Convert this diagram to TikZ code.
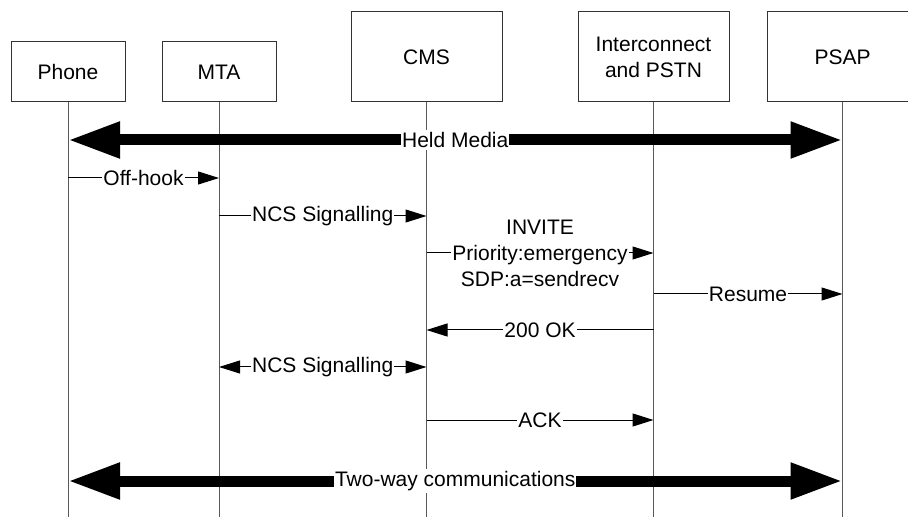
\documentclass[tikz,border=0pt]{standalone}
\usepackage{fontspec}
\setmainfont{Liberation Sans}
\usetikzlibrary{arrows.meta}
\usetikzlibrary{positioning}

\begin{document}
\begin{tikzpicture} [ x=0.5pt, y=-0.5pt
								, font=\fontsize{10.5}{13}\selectfont
								, kasten/.style={rectangle, draw=black!80, line width=.5pt, minimum width=57pt, minimum height=30pt, inner sep=1pt, align=center}
								, grosskasten/.style={kasten, minimum width=75.5pt, minimum height=45pt}
								, lebenslinie/.style={draw=black!65, line width=.5pt}
								, pfeilspitze/.style={draw, line width=.5pt, arrows={-Triangle[length=10.5pt, width=6.5pt]}}
								, doppelspitze/.style={pfeilspitze, arrows={Triangle[length=10.5pt, width=6.5pt]-Triangle[length=10.5pt, width=6.5pt]}}
								, dickpfeil/.style={draw, line width=5.5pt, arrows={Triangle[length=26pt, width=17pt]-Triangle[length=26pt, width=17pt]}}
								, beschriftung/.style={fill=white, inner xsep=.5pt, inner ysep=1pt}
								]
	\useasboundingbox (0,0) rectangle (908,517);

	\node (Phone) 	[kasten] at (68,72) {Phone};
	\node (MTA) 	[kasten, right=18pt of Phone] {MTA};
	\node (CMS) 	[grosskasten, right=37pt of MTA.south east, anchor=south west] {CMS};
	\node (PSTN) 	[grosskasten, right=37.5pt of CMS.south east, anchor=south west] {Interconnect\\and PSTN};
	\node (PSAP) 	[grosskasten, right=18.5pt of PSTN.south east, anchor=south west] {PSAP};

	\foreach \k in {Phone,MTA,CMS,PSTN,PSAP}
		\foreach \r/\h in {held/140, offhook/178, ncs/216, invite/253, resume/294, ok/330, ncsb/367, ack/420, zweiweg/481, ende/517}
			\coordinate (\k-\r) at (\k |- 0,\h);

	\foreach \k in {Phone,MTA,CMS,PSTN,PSAP}
		\draw [lebenslinie] (\k.south) -- (\k-ende);

	\draw [dickpfeil] (Phone-held) -- node[beschriftung] {Held Media} (PSAP-held);
	\draw [pfeilspitze] (Phone-offhook) -- node[beschriftung] {Off-hook} (MTA-offhook);
	\draw [pfeilspitze] (MTA-ncs) -- node[beschriftung] {NCS Signalling} (CMS-ncs);
	\draw [pfeilspitze] (CMS-invite) -- node[beschriftung, align=center] {INVITE\\Priority:emergency\\SDP:a=sendrecv} (PSTN-invite);
	\draw [pfeilspitze] (PSTN-resume) -- node[beschriftung] {Resume} (PSAP-resume);
	\draw [pfeilspitze] (PSTN-ok) -- node[beschriftung] {200 OK} (CMS-ok);
	\draw [doppelspitze] (MTA-ncsb) -- node[beschriftung] {NCS Signalling} (CMS-ncsb);
	\draw [pfeilspitze] (CMS-ack) -- node[beschriftung] {ACK} (PSTN-ack);
	\draw [dickpfeil] (Phone-zweiweg) -- node[beschriftung] {Two-way communications} (PSAP-zweiweg);

\end{tikzpicture}
\end{document}
